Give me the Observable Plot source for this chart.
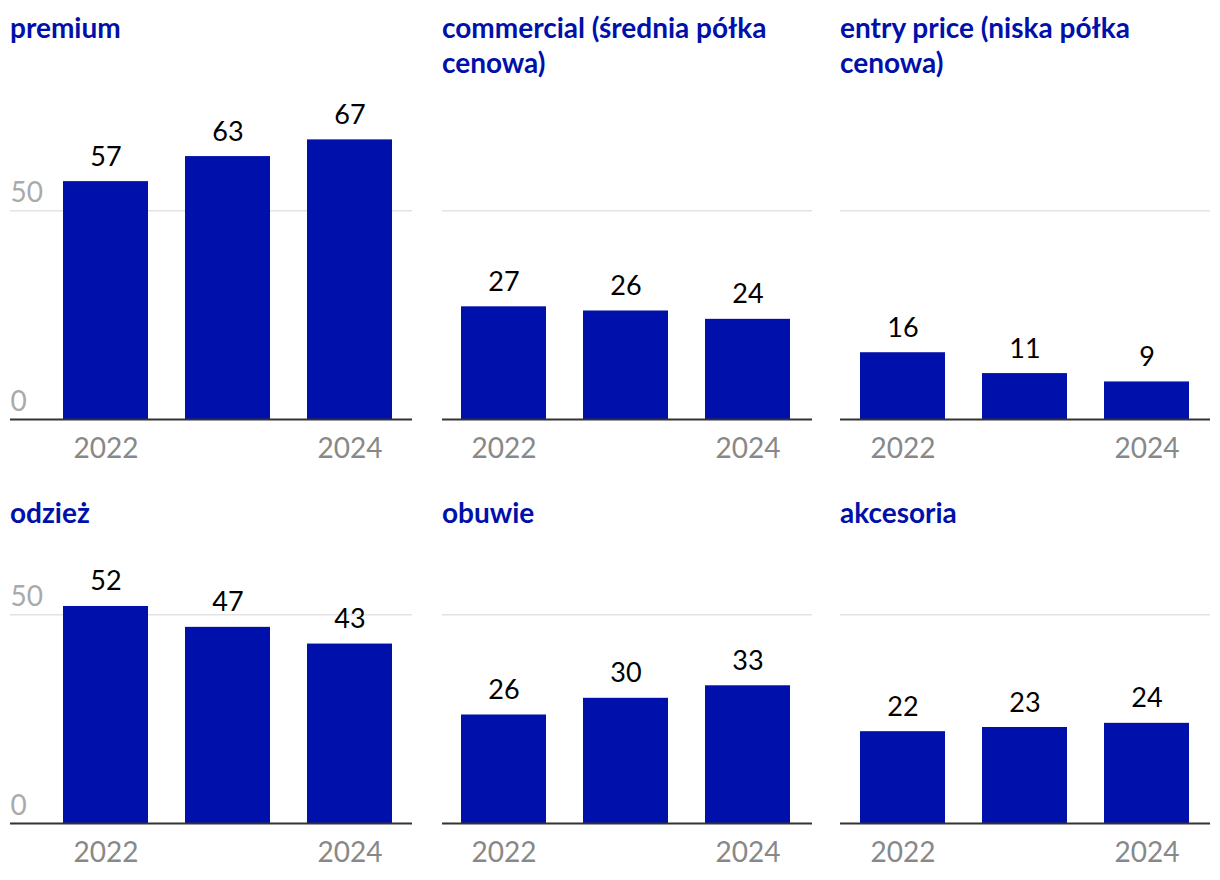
<!DOCTYPE html>
<html><head><meta charset="utf-8">
<script src="https://cdn.jsdelivr.net/npm/d3@7"></script>
<script src="https://cdn.jsdelivr.net/npm/@observablehq/plot@0.6"></script>
<style>
body{margin:0;background:#fff;font-family:Lato,sans-serif;}
#root{position:relative;width:1220px;height:880px;overflow:hidden;}
.title{position:absolute;font-family:Lato,sans-serif;font-weight:700;font-size:28px;line-height:35px;color:#0010aa;}
.panel{position:absolute;}
.panel svg{overflow:visible;}
</style></head><body><div id="root"></div>
<script>
const years = ["2022", "2023", "2024"];
const shownYears = ["2022", "2024"];
const categories = ["premium", "commercial (średnia półka cenowa)", "entry price (niska półka cenowa)", "odzież", "obuwie", "akcesoria"];
const premium = [57, 63, 67];
const commercial = [27, 26, 24];
const entryPrice = [16, 11, 9];
const odziez = [52, 47, 43];
const obuwie = [26, 30, 33];
const akcesoria = [22, 23, 24];
const seriesValues = [premium, commercial, entryPrice, odziez, obuwie, akcesoria];
const yTicks = [0, 50];
const gridTicks = [50];

const BLUE = "#0010aa";
const cols = [{left: 10, width: 402, x0: 52}, {left: 442, width: 370, x0: 18}, {left: 840, width: 370, x0: 19}];
const rows = [{svgTop: 95, titleTop: 10}, {svgTop: 499, titleTop: 495}];
const root = document.getElementById("root");

categories.forEach((cat, i) => {
  const c = cols[i % 3], r = rows[Math.floor(i / 3)];
  const data = years.map((year, j) => ({year, value: seriesValues[i][j]}));
  const t = document.createElement("div");
  t.className = "title";
  t.style.left = c.left + "px";
  t.style.top = r.titleTop + "px";
  t.style.width = c.width + "px";
  t.textContent = cat;
  root.appendChild(t);

  const marks = [
    Plot.gridY(gridTicks, {stroke: "#e3e3e3", strokeOpacity: 1, strokeWidth: 1.5}),
    Plot.barY(data, {x: "year", y: "value", fill: BLUE}),
    Plot.ruleY([0], {stroke: "#333", strokeWidth: 2}),
    Plot.text(data, {x: "year", y: "value", text: d => String(d.value), lineAnchor: "bottom", dy: -16, fill: "#000", fontSize: 27}),
    Plot.axisX(shownYears, {tickSize: 0, tickPadding: 19, fill: "#888", fontSize: 28, label: null})
  ];
  if (i % 3 === 0) {
    marks.push(Plot.axisY(yTicks, {tickSize: 0, tickPadding: 0, textAnchor: "start", lineAnchor: "bottom", dy: -9, fill: "#aaa", fontSize: 28, label: null}));
  }
  const chart = Plot.plot({
    width: c.width,
    height: 374,
    marginLeft: 0, marginRight: 0, marginTop: 11, marginBottom: 50,
    style: {fontFamily: "Lato, sans-serif", fontSize: "26px", background: "transparent"},
    x: {type: "band", domain: years, range: [c.x0, c.x0 + 332], paddingInner: 0.3, paddingOuter: 0, axis: null},
    y: {domain: [0, 75], axis: null},
    marks
  });
  const p = document.createElement("div");
  p.className = "panel";
  p.style.left = c.left + "px";
  p.style.top = r.svgTop + "px";
  p.appendChild(chart);
  root.appendChild(p);
});
</script></body></html>
